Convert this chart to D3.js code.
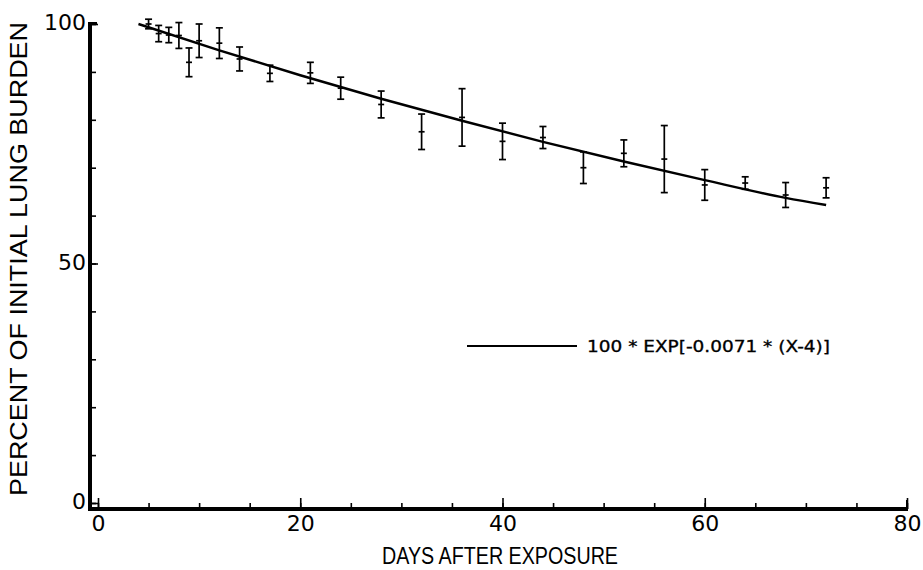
<!DOCTYPE html>
<html lang="en">
<head>
<meta charset="UTF-8">
<title>Lung burden</title>
<script src="https://cdn.jsdelivr.net/npm/d3@7"></script>
<style>
    body { margin: 0; background: #fff; }
    svg { display: block; }
    .tick text { font-family: "DejaVu Sans", sans-serif; fill: #000; }
    .axis path { display: none; }
    .axis line { stroke: #000; stroke-width: 1.6; }
</style>
</head>
<body>
<svg id="main" width="923" height="570"></svg>
<script>

    // values
    var days = [5, 6, 7, 8, 9, 10, 12, 14, 17, 21, 24, 28, 32, 36, 40, 44, 48, 52, 56, 60, 64, 68, 72];
    var percent = [100, 98, 97.7, 97.6, 92, 96.5, 96, 92.7, 89.7, 89.8, 86.6, 83.2, 77.5, 80.5, 75.5, 76.3, 70, 73, 71.8, 66.4, 66.8, 64.3, 65.8];
    var errors = [1, 1.7, 1.6, 2.7, 3, 3.5, 3.2, 2.5, 1.7, 2.2, 2.3, 2.8, 3.7, 6, 3.8, 2.3, 3.3, 2.8, 7, 3.2, 1.3, 2.6, 2.1];

    // fitted curve
    var fitDays = [4, 12, 20, 28, 36, 44, 52, 60, 68, 72];
    var fitValues = [100, 94.5, 89.3, 84.4, 79.8, 75.4, 71.3, 67.4, 63.7, 62.2];

    var xTicks = [0, 20, 40, 60, 80];
    var yTicks = [0, 50, 100];
    var legendLabel = "100 * EXP[-0.0071 * (X-4)]";

    var svg = d3.select("#main");

    var x = d3.scaleLinear().domain([0, 80]).range([98, 907]);
    var y = d3.scaleLinear().domain([0, 100]).range([503, 24]);

    var axisX = 90, axisY = 509;

    // minor ticks
    svg.append("g")
        .attr("class", "axis")
        .attr("transform", "translate(0," + axisY + ")")
        .call(d3.axisBottom(x).tickValues(d3.range(0, 81, 5)).tickSize(-6).tickFormat(""));

    svg.append("g")
        .attr("class", "axis")
        .attr("transform", "translate(" + axisX + ",0)")
        .call(d3.axisLeft(y).tickValues(d3.range(0, 101, 10)).tickSize(-6).tickFormat(""));

    // labelled ticks
    var gx = svg.append("g")
        .attr("class", "axis")
        .attr("transform", "translate(0," + axisY + ")")
        .call(d3.axisBottom(x).tickValues(xTicks).tickSize(-11).tickPadding(6));
    gx.selectAll("text").style("font-size", "22px");

    var gy = svg.append("g")
        .attr("class", "axis")
        .attr("transform", "translate(" + axisX + ",0)")
        .call(d3.axisLeft(y).tickValues(yTicks).tickSize(-8).tickPadding(4));
    gy.selectAll("text").style("font-size", "22px").attr("dy", "0.25em");

    // thick axis lines
    svg.append("line")
        .attr("x1", axisX).attr("x2", axisX)
        .attr("y1", y(100) - 2).attr("y2", axisY + 2)
        .attr("stroke", "#000").attr("stroke-width", 4);
    svg.append("line")
        .attr("x1", axisX - 2).attr("x2", x(80) + 1)
        .attr("y1", axisY).attr("y2", axisY)
        .attr("stroke", "#000").attr("stroke-width", 4);
    svg.append("line")
        .attr("x1", axisX).attr("x2", axisX + 7)
        .attr("y1", y(100) - 1).attr("y2", y(100) - 1)
        .attr("stroke", "#000").attr("stroke-width", 2);
    svg.append("line")
        .attr("x1", x(80)).attr("x2", x(80))
        .attr("y1", axisY).attr("y2", axisY - 9)
        .attr("stroke", "#000").attr("stroke-width", 2);

    // fit line
    var line = d3.line()
        .x(function(d) { return x(d[0]); })
        .y(function(d) { return y(d[1]); })
        .curve(d3.curveMonotoneX);

    svg.append("path")
        .datum(fitDays.map(function(d, i) { return [d, fitValues[i]]; }))
        .attr("d", line)
        .attr("fill", "none")
        .attr("stroke", "#000")
        .attr("stroke-width", 2.4);

    // error bars
    var pts = days.map(function(d, i) { return {day: d, v: percent[i], e: errors[i]}; });
    var bars = svg.selectAll(".bar")
        .data(pts)
        .enter().append("g")
        .attr("class", "bar")
        .attr("stroke", "#000")
        .attr("stroke-width", 1.7);

    bars.append("line")
        .attr("x1", function(d) { return x(d.day); })
        .attr("x2", function(d) { return x(d.day); })
        .attr("y1", function(d) { return y(d.v + d.e); })
        .attr("y2", function(d) { return y(d.v - d.e); });
    bars.append("line")
        .attr("x1", function(d) { return x(d.day) - 3.5; })
        .attr("x2", function(d) { return x(d.day) + 3.5; })
        .attr("y1", function(d) { return y(d.v + d.e); })
        .attr("y2", function(d) { return y(d.v + d.e); });
    bars.append("line")
        .attr("x1", function(d) { return x(d.day) - 3.5; })
        .attr("x2", function(d) { return x(d.day) + 3.5; })
        .attr("y1", function(d) { return y(d.v - d.e); })
        .attr("y2", function(d) { return y(d.v - d.e); });
    bars.append("line")
        .attr("x1", function(d) { return x(d.day) - 3; })
        .attr("x2", function(d) { return x(d.day) + 3; })
        .attr("y1", function(d) { return y(d.v); })
        .attr("y2", function(d) { return y(d.v); });

    // legend
    svg.append("line")
        .attr("x1", 467).attr("x2", 577)
        .attr("y1", 346).attr("y2", 346)
        .attr("stroke", "#000").attr("stroke-width", 2);
    svg.append("text")
        .attr("x", 587).attr("y", 352)
        .attr("textLength", 243)
        .attr("lengthAdjust", "spacingAndGlyphs")
        .style("font", "15px 'DejaVu Sans', sans-serif")
        .style("stroke", "#000").style("stroke-width", 0.3)
        .text(legendLabel);

    // axis titles
    svg.append("text")
        .attr("x", 500).attr("y", 564)
        .attr("text-anchor", "middle")
        .attr("textLength", 236)
        .attr("lengthAdjust", "spacingAndGlyphs")
        .style("font", "23px 'Liberation Sans', sans-serif")
        .text("DAYS AFTER EXPOSURE");

    svg.append("text")
        .attr("transform", "translate(27,259) rotate(-90)")
        .attr("text-anchor", "middle")
        .attr("textLength", 474)
        .attr("lengthAdjust", "spacingAndGlyphs")
        .style("font", "23px 'Liberation Sans', sans-serif")
        .text("PERCENT OF INITIAL LUNG BURDEN");

</script>
</body>
</html>
